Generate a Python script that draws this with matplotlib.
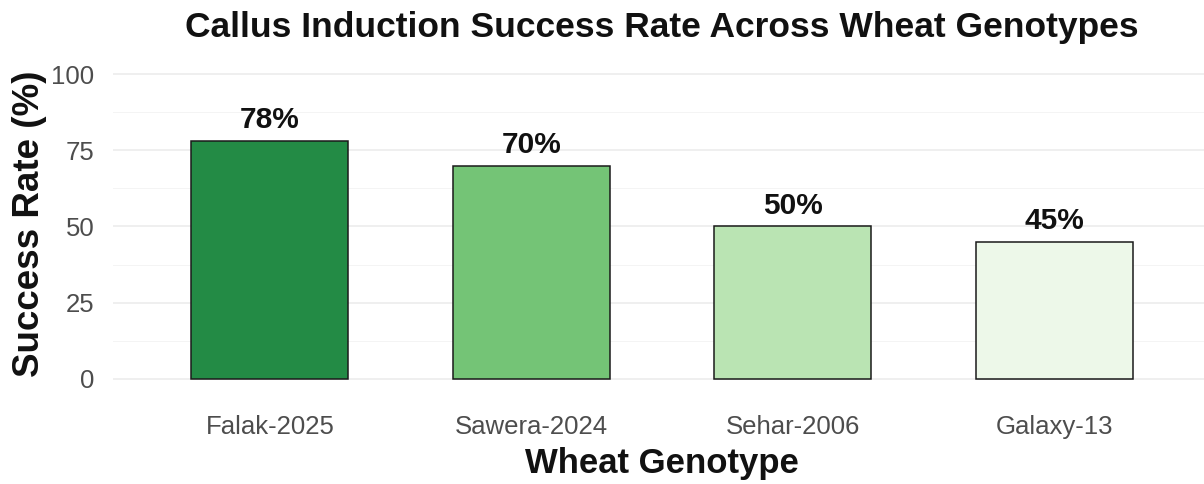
import matplotlib
matplotlib.use("Agg")
import matplotlib.pyplot as plt
from matplotlib.ticker import MultipleLocator

genotypes = ["Falak-2025", "Sawera-2024", "Sehar-2006", "Galaxy-13"]
success_rate = [78, 70, 50, 45]
bar_colors = ["#238b45", "#74c476", "#bae4b3", "#edf8e9"]
y_ticks = [0, 25, 50, 75, 100]

plt.rcParams['font.family'] = ['Liberation Sans', 'DejaVu Sans']

W, H = 1204, 484
fig = plt.figure(figsize=(W / 100, H / 100), dpi=100)
left_px, right_px = 113, 1211
top_px, bot_px = 59, 394
ax = fig.add_axes([left_px / W, 1 - bot_px / H, (right_px - left_px) / W, (bot_px - top_px) / H])

x = list(range(len(genotypes)))
ax.bar(x, success_rate, width=0.6, color=bar_colors, edgecolor="#1a1a1a", linewidth=1.1, zorder=3)
for xi, v in zip(x, success_rate):
    ax.annotate(f"{v}%", (xi, v), xytext=(0, 5), textcoords="offset points",
                ha="center", va="bottom", fontsize=21.5, fontweight="bold", color="#111111", zorder=4)

ax.set_xlim(-0.6, len(genotypes) - 0.4)
ax.set_ylim(-5, 105)
ax.set_yticks(y_ticks)
ax.yaxis.set_minor_locator(MultipleLocator(12.5))
ax.set_xticks(x)
ax.set_xticklabels(genotypes)
ax.grid(axis="y", which="major", color="#ebebeb", linewidth=1.1, zorder=0)
ax.grid(axis="y", which="minor", color="#f2f2f2", linewidth=0.6, zorder=0)
ax.grid(axis="x", visible=False)
for s in ax.spines.values():
    s.set_visible(False)
ax.tick_params(axis="both", which="both", length=0, labelsize=18.5, labelcolor="#4d4d4d")
ax.tick_params(axis="x", pad=15)
ax.tick_params(axis="y", pad=13.5)

fig.text(662 / W, 1 - 463 / H, "Wheat Genotype", ha="center", va="center",
         fontsize=25, fontweight="bold", color="#111111")
fig.text(30 / W, 1 - 224 / H, "Success Rate (%)", ha="center", va="center", rotation=90,
         fontsize=26.5, fontweight="bold", color="#111111")
fig.text(662 / W, 1 - 27 / H, "Callus Induction Success Rate Across Wheat Genotypes",
         ha="center", va="center", fontsize=25.5, fontweight="bold", color="#111111")

fig.savefig("out.png", dpi=100)
